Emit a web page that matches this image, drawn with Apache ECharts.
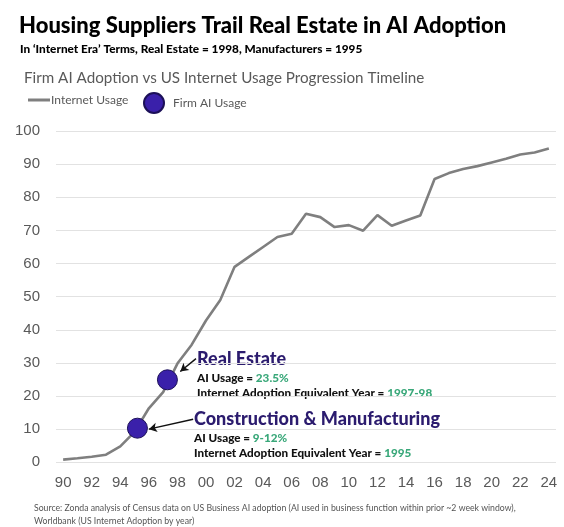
<!DOCTYPE html>
<html>
<head>
<meta charset="utf-8">
<title>Housing Suppliers Trail Real Estate in AI Adoption</title>
<script src="https://cdn.jsdelivr.net/npm/echarts@6/dist/echarts.min.js"></script>
<style>
  html, body { margin: 0; padding: 0; background: #fff; }
  #chart { width: 564px; height: 527px; }
</style>
</head>
<body>
<div id="chart"></div>
<script>
// years on the category axis
var years = ['1990','1991','1992','1993','1994','1995','1996','1997','1998','1999',
             '2000','2001','2002','2003','2004','2005','2006','2007','2008','2009',
             '2010','2011','2012','2013','2014','2015','2016','2017','2018','2019',
             '2020','2021','2022','2023','2024'];
// US internet usage, % of population
var internetUsage = [0.8, 1.2, 1.7, 2.3, 4.8, 9.2, 16.3, 21.2, 29.8, 35.5,
                     42.8, 49.0, 59.0, 62.0, 65.0, 68.0, 69.0, 75.0, 74.0, 71.0,
                     71.6, 69.9, 74.6, 71.4, 73.0, 74.5, 85.5, 87.3, 88.5, 89.4,
                     90.5, 91.6, 92.9, 93.5, 94.7];
// firm AI usage dots: equivalent year position and value
var firmNames = ['Real Estate', 'Construction & Manufacturing'];
var firmYears = [1997.3, 1995.2];
var firmValues = [24.9, 10.3];
var yTicks = [0, 10, 20, 30, 40, 50, 60, 70, 80, 90, 100];

var geo = 'Lato, "Open Sans", sans-serif';
var purple = '#2b1b6e';
var green = '#3aa87a';

var myChart = echarts.init(document.getElementById('chart'));

var option = {
    backgroundColor: '#fff',
    animation: false,
    title: [
        {
            text: 'Housing Suppliers Trail Real Estate in AI Adoption',
            left: 14, top: 10,
            textStyle: { fontFamily: geo, fontSize: 22, fontWeight: 900, color: '#000' }
        },
        {
            text: 'In \u2018Internet Era\u2019 Terms, Real Estate = 1998, Manufacturers = 1995',
            left: 15, top: 38,
            textStyle: { fontFamily: geo, fontSize: 11.8, fontWeight: 900, color: '#000' }
        },
        {
            text: 'Firm AI Adoption vs US Internet Usage Progression Timeline',
            left: 19, top: 66,
            textStyle: { fontFamily: geo, fontSize: 15.2, fontWeight: 'normal', color: '#595959' }
        },
        {
            text: 'Source: Zonda analysis of Census data on US Business AI adoption (AI used in business function within prior ~2 week window),\nWorldbank (US Internet Adoption by year)',
            left: 29, top: 497,
            textStyle: { fontFamily: geo, fontSize: 8.7, fontWeight: 'normal', color: '#555', lineHeight: 12.5 }
        }
    ],
    legend: [
        {
            data: [{ name: 'Internet Usage', icon: 'rect' }],
            left: 28, top: 94, padding: 0,
            itemWidth: 22, itemHeight: 3,
            textStyle: { fontFamily: geo, fontSize: 12, color: '#595959', padding: [0, 0, 0, -4] }
        },
        {
            data: [{ name: 'Firm AI Usage', icon: 'circle' }],
            left: 143, top: 92, padding: 0,
            itemWidth: 20, itemHeight: 20,
            textStyle: { fontFamily: geo, fontSize: 12, color: '#595959', padding: [3, 0, 0, 4] }
        }
    ],
    grid: { left: 56, right: 8, top: 131, bottom: 64.7, containLabel: false },
    xAxis: [
        {
            type: 'category',
            data: years,
            boundaryGap: true,
            axisLine: { show: false },
            axisTick: { show: false },
            axisLabel: {
                interval: 1,
                margin: 13,
                fontFamily: '"Liberation Sans", Arial, sans-serif',
                fontSize: 15,
                color: '#595959',
                formatter: function (v) { return v.slice(2); }
            },
            splitLine: { show: false }
        },
        {
            // hidden value axis so the AI dots can sit between whole years
            type: 'value',
            min: 1989.5,
            max: 2024.5,
            show: false
        }
    ],
    yAxis: {
        type: 'value',
        min: yTicks[0],
        max: yTicks[yTicks.length - 1],
        interval: 10,
        axisLine: { show: false },
        axisTick: { show: false },
        axisLabel: {
            margin: 16,
            fontFamily: '"Liberation Sans", Arial, sans-serif',
            fontSize: 15,
            color: '#595959'
        },
        splitLine: { lineStyle: { color: '#e2e2e2', width: 1 } }
    },
    series: [
        {
            name: 'Internet Usage',
            type: 'line',
            data: internetUsage,
            showSymbol: false,
            symbol: 'none',
            itemStyle: { color: '#7f7f7f' },
            lineStyle: { color: '#7f7f7f', width: 2.6 },
            z: 2
        },
        {
            name: 'Firm AI Usage',
            type: 'scatter',
            xAxisIndex: 1,
            data: firmYears.map(function (y, i) { return { name: firmNames[i], value: [y, firmValues[i]] }; }),
            symbolSize: 20,
            itemStyle: { color: '#3a20aa', borderColor: '#1c1058', borderWidth: 1, opacity: 1 },
            z: 3,
            markLine: {
                silent: true,
                symbol: ['none', 'arrow'],
                symbolSize: [7, 8],
                label: { show: false },
                lineStyle: { color: '#111', width: 1.4, type: 'solid' },
                data: [
                    [{ coord: [1999.3, 31.3] }, { coord: [1998.2, 27.4] }],
                    [{ coord: [1999.1, 13.0] }, { coord: [1996.0, 10.0] }]
                ]
            }
        }
    ],
    graphic: [
        {
            type: 'text', x: 197, y: 359,
            style: { text: firmNames[0], fill: purple, font: '900 18px ' + geo, verticalAlign: 'middle' }
        },
        {
            type: 'text', x: 197, y: 378.5,
            style: {
                text: '{b|AI Usage = }{g|23.5%}',
                verticalAlign: 'middle',
                rich: {
                    b: { fill: '#111', font: '900 11.7px ' + geo },
                    g: { fill: green, font: '900 11.7px ' + geo }
                }
            }
        },
        {
            type: 'text', x: 197, y: 393.5,
            style: {
                text: '{b|Internet Adoption Equivalent Year = }{g|1997-98}',
                verticalAlign: 'middle',
                rich: {
                    b: { fill: '#111', font: '900 11.7px ' + geo },
                    g: { fill: green, font: '900 11.7px ' + geo }
                }
            }
        },
        {
            type: 'text', x: 194, y: 419.5,
            style: { text: firmNames[1], fill: purple, font: '900 18px ' + geo, verticalAlign: 'middle' }
        },
        {
            type: 'text', x: 194, y: 438.5,
            style: {
                text: '{b|AI Usage = }{g|9-12%}',
                verticalAlign: 'middle',
                rich: {
                    b: { fill: '#111', font: '900 11.7px ' + geo },
                    g: { fill: green, font: '900 11.7px ' + geo }
                }
            }
        },
        {
            type: 'text', x: 194, y: 453.5,
            style: {
                text: '{b|Internet Adoption Equivalent Year = }{g|1995}',
                verticalAlign: 'middle',
                rich: {
                    b: { fill: '#111', font: '900 11.7px ' + geo },
                    g: { fill: green, font: '900 11.7px ' + geo }
                }
            }
        }
    ]
};

myChart.setOption(option);
</script>
</body>
</html>
